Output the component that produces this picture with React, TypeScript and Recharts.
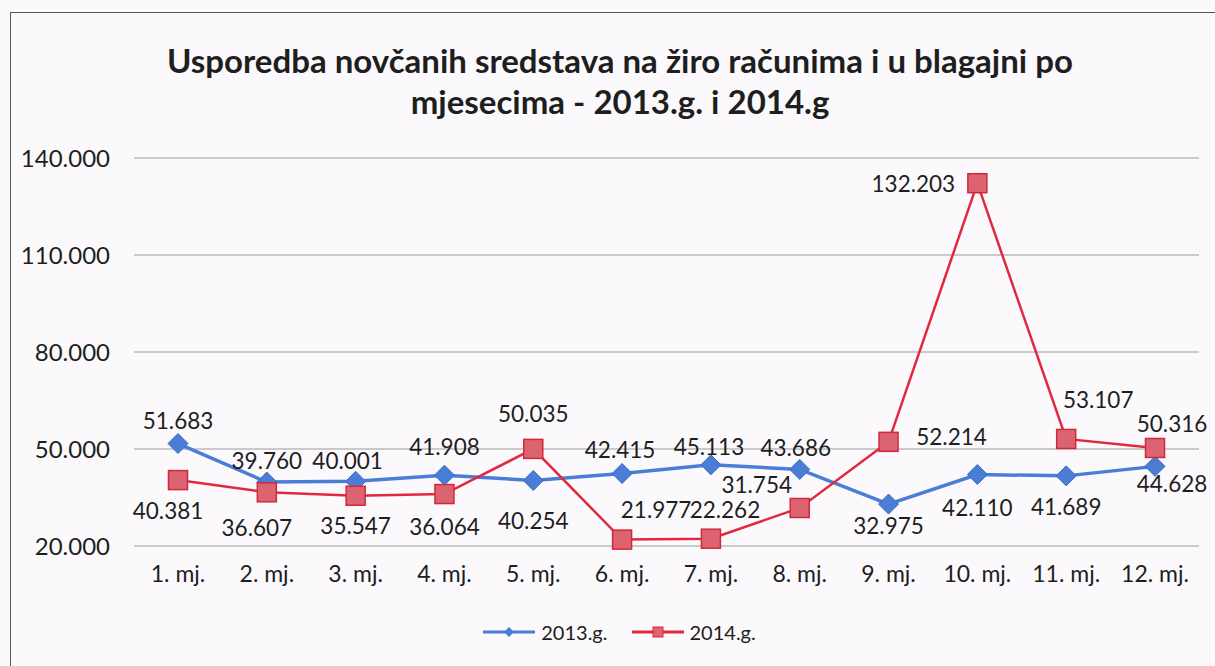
import { LineChart, Line, XAxis, YAxis, CartesianGrid, LabelList, Legend } from 'recharts';

const months = ['1. mj.', '2. mj.', '3. mj.', '4. mj.', '5. mj.', '6. mj.', '7. mj.', '8. mj.', '9. mj.', '10. mj.', '11. mj.', '12. mj.'];
const values2013 = [51683, 39760, 40001, 41908, 40254, 42415, 45113, 43686, 32975, 42110, 41689, 44628];
const values2014 = [40381, 36607, 35547, 36064, 50035, 21977, 22262, 31754, 52214, 132203, 53107, 50316];
const yTicks = [20000, 50000, 80000, 110000, 140000];

// label centre offsets from the point, [dx, dy]
const offsets2013 = [[0, -23], [0, -22], [-8, -21], [0, -29], [0, 40], [-2, -24], [-2, -18], [-4, -22], [0, 21], [0, 33], [0, 31], [17, 17]];
const offsets2014 = [[-10, 30], [-10, 35], [0, 30], [0, 32], [0, -35], [34, -30], [14, -29], [-43, -23], [63, -5], [-64, 0], [32, -39], [17, -24]];

const BLUE = '#4a7ed6';
const RED = '#e0283f';
const FONT = 'Lato, "Open Sans", sans-serif';

const data = months.map((m, i) => ({ month: m, y2013: values2013[i], y2014: values2014[i] }));

function fmt(v: number): string {
  const s = Math.round(v).toString();
  return s.replace(/\B(?=(\d{3})+(?!\d))/g, '.');
}

function makeLabel(offsets: number[][]) {
  return (props: any) => {
    const { x, y, index, value } = props;
    const [dx, dy] = offsets[index] || [0, -20];
    return (
      <text
        x={x + dx}
        y={y + dy}
        textAnchor="middle"
        dominantBaseline="central"
        fontSize={22.5}
        fontFamily={FONT}
        fill="#1e1e1e"
      >
        {fmt(value)}
      </text>
    );
  };
}

function Diamond(props: any) {
  const { cx, cy } = props;
  if (cx == null || cy == null) return null;
  const r = 10;
  return (
    <path
      d={`M${cx},${cy - r} L${cx + r},${cy} L${cx},${cy + r} L${cx - r},${cy} Z`}
      fill={BLUE}
      stroke="#3c6cc0"
      strokeWidth={1}
    />
  );
}

function Square(props: any) {
  const { cx, cy } = props;
  if (cx == null || cy == null) return null;
  const h = 9.5;
  return <rect x={cx - h} y={cy - h} width={h * 2} height={h * 2} fill="#dc6470" stroke="#d2283c" strokeWidth={1.5} />;
}

function LegendContent() {
  const items = [
    { name: '2013.g.', color: BLUE, kind: 'diamond' },
    { name: '2014.g.', color: RED, kind: 'square' },
  ];
  return (
    <div style={{ display: 'flex', justifyContent: 'center', gap: 24, paddingLeft: 40, fontFamily: FONT, fontSize: 20, color: '#1e1e1e' }}>
      {items.map((it) => (
        <div key={it.name} style={{ display: 'flex', alignItems: 'center', gap: 6 }}>
          <svg width={52} height={14}>
            <line x1={0} y1={7} x2={52} y2={7} stroke={it.color} strokeWidth={3} />
            {it.kind === 'diamond' ? (
              <path d="M26,2 L31,7 L26,12 L21,7 Z" fill={it.color} />
            ) : (
              <rect x={21} y={2} width={10} height={10} fill="#dc6470" stroke={it.color} />
            )}
          </svg>
          <span>{it.name}</span>
        </div>
      ))}
    </div>
  );
}

export default function App() {
  return (
    <div style={{ position: 'absolute', left: 0, top: 0, width: 1215, height: 666, background: '#fbf9fc', overflow: 'hidden' }}>
      <div
        style={{
          position: 'absolute',
          left: 10,
          top: 12,
          width: 1220,
          height: 670,
          border: '1.5px solid #555',
          boxSizing: 'border-box',
        }}
      />
      <div
        style={{
          position: 'absolute',
          left: 0,
          top: 40,
          width: 1240,
          textAlign: 'center',
          fontFamily: FONT,
          fontWeight: 700,
          fontSize: 33,
          lineHeight: '41px',
          color: '#1e1e1e',
        }}
      >
        Usporedba novčanih sredstava na žiro računima i u blagajni po
        <br />
        mjesecima - 2013.g. i 2014.g
      </div>
      <div style={{ position: 'absolute', left: 0, top: 0 }}>
        <LineChart width={1215} height={666} data={data} margin={{ top: 158, right: 16, left: 0, bottom: 56 }}>
          <CartesianGrid horizontal vertical={false} stroke="#9a9a9a" strokeWidth={1} />
          <XAxis
            dataKey="month"
            padding={{ left: 44, right: 44 }}
            axisLine={false}
            tickLine={false}
            tickMargin={14}
            height={40}
            tick={{ fontSize: 23, fontFamily: FONT, fill: '#1e1e1e' }}
          />
          <YAxis
            domain={[20000, 140000]}
            ticks={yTicks}
            tickFormatter={fmt}
            axisLine={false}
            tickLine={false}
            tickMargin={18}
            width={134}
            tick={{ fontSize: 24, fontFamily: FONT, fill: '#1e1e1e' }}
          />
          <Legend verticalAlign="bottom" content={<LegendContent />} wrapperStyle={{ bottom: 22 }} />
          <Line
            dataKey="y2013"
            name="2013.g."
            stroke={BLUE}
            strokeWidth={3.5}
            dot={<Diamond />}
            activeDot={false}
            isAnimationActive={false}
          >
            <LabelList dataKey="y2013" content={makeLabel(offsets2013)} />
          </Line>
          <Line
            dataKey="y2014"
            name="2014.g."
            stroke={RED}
            strokeWidth={2.5}
            dot={<Square />}
            activeDot={false}
            isAnimationActive={false}
          >
            <LabelList dataKey="y2014" content={makeLabel(offsets2014)} />
          </Line>
        </LineChart>
      </div>
    </div>
  );
}
